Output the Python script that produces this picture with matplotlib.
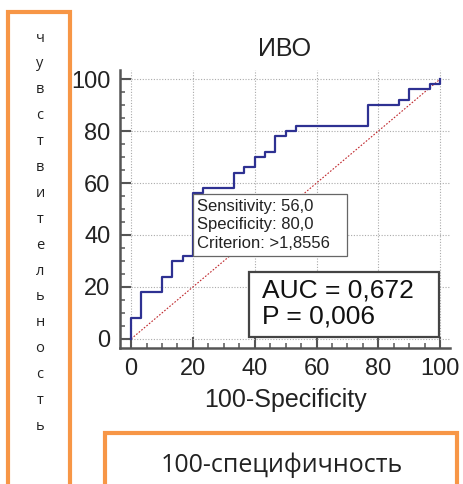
import matplotlib
matplotlib.use("Agg")
import matplotlib.pyplot as plt
from matplotlib.patches import Rectangle

# ROC curve points (100-Specificity, Sensitivity)
fpr = [0, 0, 3.33, 3.33, 10, 10, 13.33, 13.33, 16.67, 16.67, 20, 20, 23.33, 23.33,
       33.33, 33.33, 36.67, 36.67, 40, 40, 43.33, 43.33, 46.67, 46.67, 50, 50,
       53.33, 53.33, 76.67, 76.67, 86.67, 86.67, 90, 90, 96.67, 96.67, 100, 100]
tpr = [0, 8, 8, 18, 18, 24, 24, 30, 30, 32, 32, 56, 56, 58,
       58, 64, 64, 66, 66, 70, 70, 72, 72, 78, 78, 80,
       80, 82, 82, 90, 90, 92, 92, 96, 96, 98, 98, 100]

ticks = [0, 20, 40, 60, 80, 100]
title = "ИВО"
xlabel = "100-Specificity"
info_lines = ["Sensitivity: 56,0", "Specificity: 80,0", "Criterion: >1,8556"]
auc_lines = ["AUC = 0,672", "P = 0,006"]
side_label = "чувствительность"
bottom_label = "100-специфичность"

W, H = 464, 484
orange = "#F79646"
gray = "#555555"

fig = plt.figure(figsize=(W / 100, H / 100), dpi=100)
plt.rcParams['font.family'] = ['Liberation Sans', 'DejaVu Sans']

ax = fig.add_axes([120 / W, 1 - 348 / H, 330 / W, 278 / H])
ax.set_xlim(-3.6, 103.2)
ax.set_ylim(-3.5, 103.5)

ax.plot([0, 100], [0, 100], color="#C0282D", lw=0.8, ls=(0, (1.5, 1.5)), zorder=2)
ax.plot(fpr, tpr, color="#2E3192", lw=1.6, zorder=3)

for s in ["top", "right"]:
    ax.spines[s].set_visible(False)
for s in ["left", "bottom"]:
    ax.spines[s].set_color(gray)
    ax.spines[s].set_linewidth(1.8)

ax.set_xticks(ticks)
ax.set_yticks(ticks)
ax.set_xticks(range(0, 101, 5), minor=True)
ax.set_yticks(range(0, 101, 5), minor=True)
ax.tick_params(which="major", direction="in", length=8, width=1.5, color=gray,
               labelsize=17, pad=7, labelcolor="#222222")
ax.tick_params(which="minor", direction="in", length=3.5, width=1.1, color=gray)
ax.grid(True, which="major", color="#AAAAAA", ls=(0, (1, 1.5)), lw=0.8)

ax.set_title(title, fontsize=18, pad=10, color="#222222")
ax.set_xlabel(xlabel, fontsize=18, labelpad=6, color="#222222")

# info box
ax.add_patch(Rectangle((20, 31.9), 49.9, 24.0, facecolor="white",
                       edgecolor="#666666", lw=0.9, zorder=4))
for i, line in enumerate(info_lines):
    ax.text(21.4, 50.9 - i * 7.05, line, fontsize=12, va="center", ha="left",
            color="#222222", zorder=5)

# AUC box
ax.add_patch(Rectangle((38.2, 0.7), 61.6, 24.9, facecolor="white",
                       edgecolor="#444444", lw=1.6, zorder=4))
for i, line in enumerate(auc_lines):
    ax.text(42.4, 18.8 - i * 10.3, line, fontsize=19, va="center", ha="left",
            color="#111111", zorder=5)

# orange frames
fig.patches.append(Rectangle((8 / W, -0.05), 62 / W, 1.05 - 12 / H,
                             transform=fig.transFigure, fill=False,
                             edgecolor=orange, lw=3))
fig.patches.append(Rectangle((105 / W, -0.05), 352 / W, 0.05 + 1 - 433 / H,
                             transform=fig.transFigure, fill=False,
                             edgecolor=orange, lw=3))

for i, ch in enumerate(side_label):
    fig.text(40 / W, 1 - (38 + i * 25.9) / H, ch, fontsize=10.5, ha="center",
             va="center", family=["Open Sans", "DejaVu Sans"], color="#222222")
fig.text(282 / W, 1 - 465 / H, bottom_label, fontsize=18, ha="center",
         va="center", family=["Open Sans", "DejaVu Sans"], color="#222222")

fig.savefig("out.png", dpi=100)
